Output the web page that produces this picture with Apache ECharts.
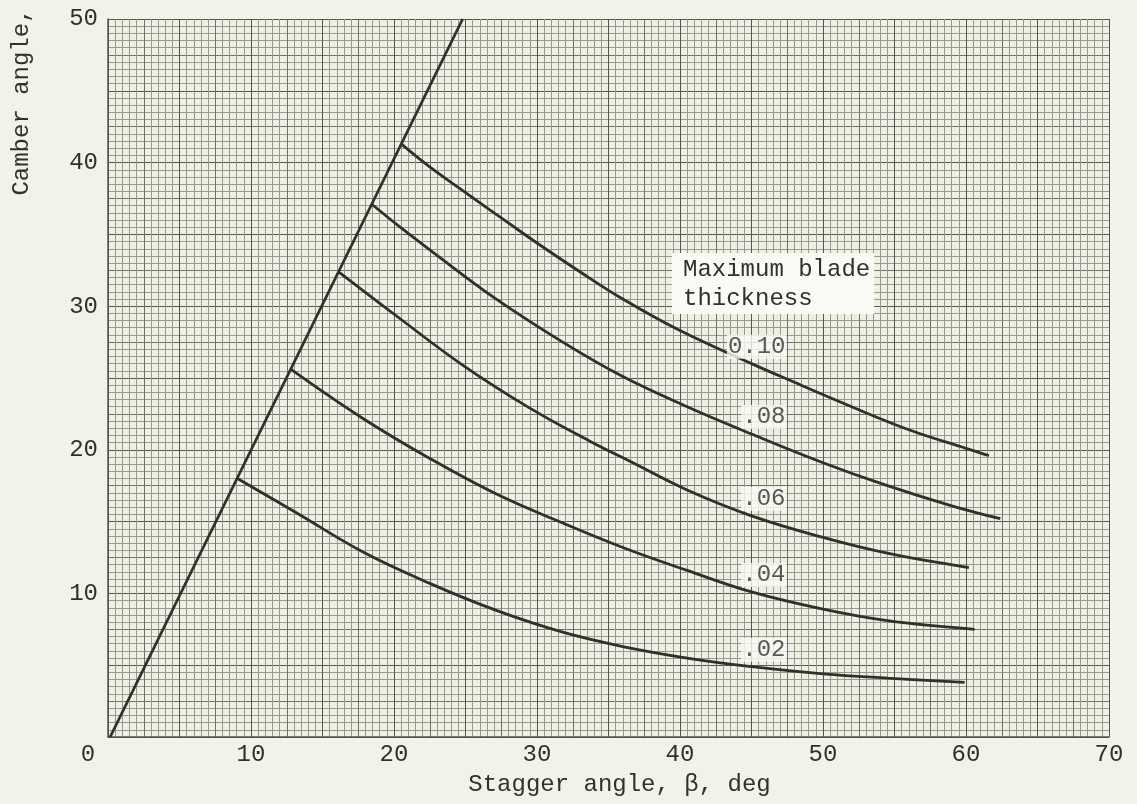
<!DOCTYPE html>
<html>
<head>
<meta charset="utf-8">
<script src="https://cdn.jsdelivr.net/npm/echarts@6/dist/echarts.min.js"></script>
<style>
html,body{margin:0;padding:0;background:#f3f2ea;}
#chart{width:1137px;height:804px;}
</style>
</head>
<body>
<div id="chart"></div>
<script>
// ---- data ----
const xTickLabels = [0, 10, 20, 30, 40, 50, 60, 70];
const yTickLabels = [10, 20, 30, 40, 50];

const limitStagger = [0.15, 24.8];
const limitCamber  = [0, 50];

const thicknessNames = ['0.10', '.08', '.06', '.04', '.02'];

const stagger10 = [20.5, 22.5, 25.3, 28, 30, 33, 36, 40, 45, 48, 52, 56, 60, 61.6];
const camber10  = [41.3, 39.7, 37.7, 35.8, 34.4, 32.4, 30.5, 28.3, 26.0, 24.7, 23.0, 21.4, 20.1, 19.6];

const stagger08 = [18.45, 20.5, 22.8, 27, 31.8, 36, 40.5, 45, 50, 54.5, 59, 62.4];
const camber08  = [37.1, 35.45, 33.7, 30.6, 27.5, 25.1, 23.0, 21.1, 19.1, 17.5, 16.1, 15.2];

const stagger06 = [16.1, 20.2, 24.8, 29.5, 33.7, 36.5, 40.5, 45, 50, 54.5, 60.2];
const camber06  = [32.4, 29.3, 25.9, 22.9, 20.6, 19.2, 17.2, 15.4, 13.9, 12.8, 11.8];

const stagger04 = [12.8, 17.8, 22.5, 27.2, 31.8, 36, 40.5, 45, 50, 54.5, 60.6];
const camber04  = [25.6, 22.2, 19.4, 16.9, 14.9, 13.2, 11.6, 10.1, 8.9, 8.1, 7.5];

const stagger02 = [9.05, 13.2, 17.8, 22.5, 27.2, 31.8, 36, 40.5, 45, 50, 54.5, 59.9];
const camber02  = [18.0, 15.6, 12.9, 10.7, 8.8, 7.3, 6.3, 5.5, 4.9, 4.4, 4.1, 3.8];

const labelStagger = 45; // curve point the thickness label is attached to

// ---- styles ----
const FONT = '"Liberation Mono", "Courier New", monospace';
const INK = '#30302c';
const HEAVY = '#54564e';
const MEDIUM = '#707269';
const MINOR = '#989a90';

const zip = (xs, ys) => xs.map((x, i) => [x, ys[i]]);
const curves = [
  zip(stagger10, camber10),
  zip(stagger08, camber08),
  zip(stagger06, camber06),
  zip(stagger04, camber04),
  zip(stagger02, camber02)
];

const curveSeries = curves.map((pts, i) => ({
  name: thicknessNames[i],
  type: 'line',
  data: pts,
  smooth: 0.4,
  symbol: 'none',
  lineStyle: { color: INK, width: 2.8 },
  z: 3
}));

const labelData = curves.map((pts, i) => {
  const p = pts.find(d => d[0] === labelStagger);
  return { value: p, name: thicknessNames[i] };
});

const chart = echarts.init(document.getElementById('chart'), null, { renderer: 'canvas' });

const option = {
  backgroundColor: '#f3f2ea',
  animation: false,
  title: {
    text: 'Maximum blade\nthickness',
    left: 672,
    top: 253,
    padding: [2, 4, 1, 11],
    backgroundColor: '#fbfbf6',
    textStyle: { fontFamily: FONT, fontSize: 24, fontWeight: 'normal', color: INK, lineHeight: 29 }
  },
  grid: {
    left: 108, right: 28, top: 19, bottom: 67,
    show: true, backgroundColor: '#eef0e4', borderWidth: 0
  },
  xAxis: {
    type: 'value',
    min: 0, max: 70, interval: 2.5,
    name: 'Stagger angle, β, deg',
    nameLocation: 'middle',
    nameGap: 36,
    nameTextStyle: { fontFamily: FONT, fontSize: 24, color: INK, padding: [0, 0, 0, 22] },
    axisLine: { show: true, lineStyle: { color: HEAVY, width: 1.5 } },
    axisTick: { show: false },
    axisLabel: {
      margin: 6,
      fontFamily: FONT, fontSize: 24, color: INK,
      formatter: v => v === 0 ? '{z|0}' : (xTickLabels.includes(v) ? String(v) : ''),
      rich: { z: { padding: [0, 40, 0, 0], fontFamily: FONT, fontSize: 24, color: INK } }
    },
    splitLine: { show: true, lineStyle: { color: [HEAVY, MEDIUM], width: 1 } },
    minorTick: { show: false, splitNumber: 5 },
    minorSplitLine: { show: true, lineStyle: { color: MINOR, width: 1 } }
  },
  yAxis: {
    type: 'value',
    min: 0, max: 50, interval: 2.5,
    axisLine: { show: true, lineStyle: { color: HEAVY, width: 1.5 } },
    axisTick: { show: false },
    axisLabel: {
      margin: 10,
      fontFamily: FONT, fontSize: 24, color: INK,
      formatter: v => yTickLabels.includes(v) ? String(v) : ''
    },
    splitLine: { show: true, lineStyle: { color: [HEAVY, MEDIUM], width: 1 } },
    minorTick: { show: false, splitNumber: 5 },
    minorSplitLine: { show: true, lineStyle: { color: MINOR, width: 1 } }
  },
  graphic: [{
    type: 'text',
    x: 22, y: 102,
    rotation: Math.PI / 2,
    style: {
      text: 'Camber angle,',
      font: '24px ' + FONT,
      fill: INK,
      align: 'center', verticalAlign: 'middle',
      textAlign: 'center', textVerticalAlign: 'middle'
    }
  }],
  series: [
    {
      name: 'limit',
      type: 'line',
      data: zip(limitStagger, limitCamber),
      symbol: 'none',
      lineStyle: { color: INK, width: 2.8 },
      z: 3
    },
    ...curveSeries,
    {
      name: 'labels',
      type: 'scatter',
      data: labelData,
      symbolSize: 1,
      itemStyle: { color: 'rgba(0,0,0,0)' },
      z: 5,
      label: {
        show: true,
        position: 'inside',
        align: 'right',
        verticalAlign: 'middle',
        offset: [35, -17],
        formatter: p => p.name,
        fontFamily: FONT, fontSize: 24, color: INK,
        backgroundColor: '#fbfbf6',
        padding: [0, 1, 0, 1]
      }
    }
  ]
};
chart.setOption(option);
</script>
</body>
</html>
